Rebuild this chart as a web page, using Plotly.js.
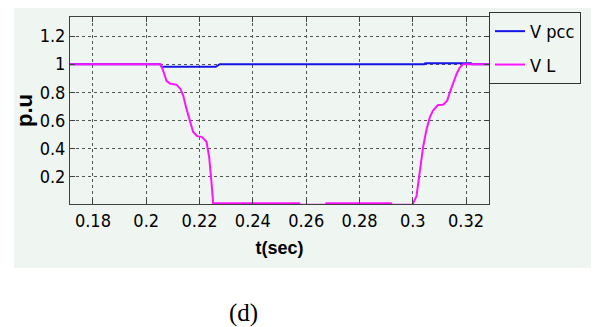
<!DOCTYPE html>
<html>
<head>
<meta charset="utf-8">
<script src="https://cdn.plot.ly/plotly-3.0.1.min.js"></script>
<style>html,body{margin:0;padding:0;background:#fff;}#chart{width:595px;height:327px;}</style>
</head>
<body>
<div id="chart"></div>
<script>
// Time axis (s) and per-unit voltages
const vpccT = [0.1714, 0.2052, 0.2058, 0.2261, 0.2276, 0.3043, 0.3047, 0.3218, 0.3222, 0.3286];
const vpccV = [1.0, 1.0, 0.981, 0.981, 1.0, 1.0, 1.006, 1.006, 1.0, 1.0];

const vlT = [0.1714, 0.2054, 0.2064, 0.2076, 0.2089, 0.2114, 0.2129, 0.2139, 0.2151, 0.2164,
             0.2176, 0.2191, 0.2208, 0.2226, 0.2236, 0.2245, 0.2251, 0.2574, 0.2576, 0.2674,
             0.2676, 0.2918, 0.2920, 0.2999, 0.3001, 0.3014, 0.3026, 0.3039, 0.3051, 0.3064,
             0.3076, 0.3095, 0.3114, 0.3129, 0.3139, 0.3151, 0.3164, 0.3176, 0.3189, 0.3286];
const vlV = [1.0, 1.0, 0.951, 0.881, 0.862, 0.853, 0.822, 0.775, 0.682, 0.588,
             0.518, 0.488, 0.483, 0.448, 0.342, 0.156, 0.012, 0.012, 0.0, 0.0,
             0.012, 0.012, 0.0, 0.0, 0.011, 0.062, 0.249, 0.413, 0.53, 0.623,
             0.67, 0.71, 0.712, 0.74, 0.799, 0.869, 0.928, 0.974, 1.0, 1.0];

const seriesNames = ["V pcc", "V L"];
const xTickVals = [0.18, 0.2, 0.22, 0.24, 0.26, 0.28, 0.3, 0.32];
const xTickText = ["0.18", "0.2", "0.22", "0.24", "0.26", "0.28", "0.3", "0.32"];
const yTickVals = [0.2, 0.4, 0.6, 0.8, 1.0, 1.2];
const yTickText = ["0.2", "0.4", "0.6", "0.8", "1", "1.2"];

const narrow = "DejaVu Sans Condensed, Liberation Sans Narrow, Arial Narrow, Liberation Sans, sans-serif";
const bg = "#eff5f1";

const traces = [
  {x: vpccT, y: vpccV, name: seriesNames[0], type: "scatter", mode: "lines", legendgroup: "a",
   line: {color: "#1414e6", width: 2}},
  {x: vlT, y: vlV, name: seriesNames[1], type: "scatter", mode: "lines", legendgroup: "b",
   line: {color: "#ff14ff", width: 2}}
];

const axisCommon = {
  showline: true, linecolor: "#404040", linewidth: 1, mirror: "ticks",
  ticks: "inside", ticklen: 5, tickcolor: "#404040",
  showgrid: true, gridcolor: "#555555", griddash: "dot", gridwidth: 1,
  zeroline: false, tickfont: {family: narrow, size: 18, color: "#000"}
};

const layout = {
  width: 595, height: 327,
  margin: {l: 70, r: 106, t: 17, b: 123},
  paper_bgcolor: "#ffffff",
  plot_bgcolor: "rgba(0,0,0,0)",
  showlegend: true,
  legend: {x: 1.0, y: 1.027, xanchor: "left", yanchor: "top",
           bgcolor: bg, bordercolor: "#333", borderwidth: 1,
           traceorder: "grouped", tracegroupgap: 7,
           font: {family: narrow, size: 18, color: "#000"}, itemwidth: 30},
  xaxis: Object.assign({}, axisCommon, {
    range: [0.1714, 0.3286], tickvals: xTickVals, ticktext: xTickText,
    title: {text: "<b>t(sec)</b>", font: {family: "Liberation Sans, Arial, sans-serif", size: 18, color: "#000"}, standoff: 11}
  }),
  yaxis: Object.assign({}, axisCommon, {
    range: [0.006, 1.335], tickvals: yTickVals, ticktext: yTickText,
    title: {text: "<b>p.u</b>", font: {family: "Liberation Sans, Arial, sans-serif", size: 22, color: "#000"}, standoff: 0}
  }),
  shapes: [
    {type: "rect", xref: "paper", yref: "paper", layer: "below",
     x0: -0.1337, x1: 1.2434, y0: -0.3422, y1: 1.0481,
     fillcolor: bg, line: {width: 0}}
  ],
  annotations: [
    {xref: "paper", yref: "paper", x: (243 - 70) / 419, y: (204 - 313) / 187,
     text: "(d)", showarrow: false, xanchor: "center", yanchor: "middle",
     font: {family: "Liberation Serif, Times New Roman, serif", size: 25, color: "#000"}}
  ]
};

Plotly.newPlot("chart", traces, layout, {displayModeBar: false, staticPlot: true});
</script>
</body>
</html>
